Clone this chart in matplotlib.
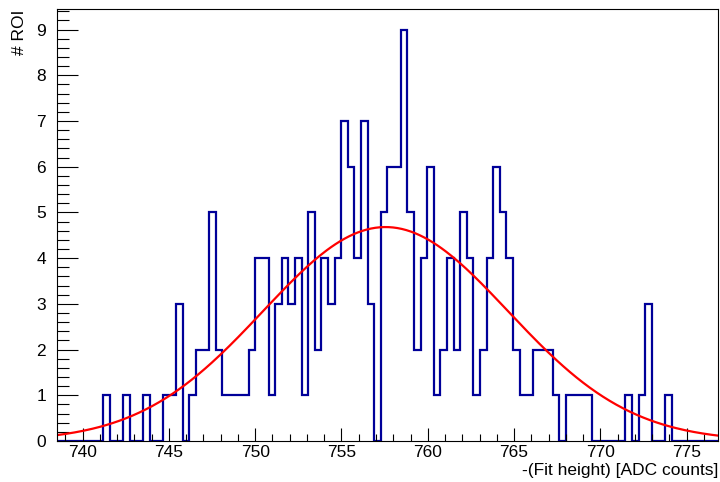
import numpy as np
import matplotlib
matplotlib.use("Agg")
import matplotlib.pyplot as plt
from matplotlib.ticker import MultipleLocator

plt.rcParams['font.family'] = ['Liberation Sans', 'DejaVu Sans']

# histogram: 100 bins over the fit-height range
x_lo, x_hi, n_bins = 738.52, 776.81, 100
counts = [0, 0, 0, 0, 0, 0, 0, 1, 0, 0,
          1, 0, 0, 1, 0, 0, 1, 1, 3, 0,
          1, 2, 2, 5, 2, 1, 1, 1, 1, 2,
          4, 4, 1, 3, 4, 3, 4, 1, 5, 2,
          4, 3, 4, 7, 6, 4, 7, 3, 0, 5,
          6, 6, 9, 5, 2, 4, 6, 1, 2, 4,
          2, 5, 4, 1, 2, 4, 6, 5, 4, 2,
          1, 1, 2, 2, 2, 1, 0, 1, 1, 1,
          1, 0, 0, 0, 0, 0, 1, 0, 1, 3,
          0, 0, 1, 0, 0, 0, 0, 0, 0, 0]

# gaussian fit parameters
g_const = 4.68
g_mean = 757.55
g_sigma = 7.1

x_title = "-(Fit height) [ADC counts]"
y_title = "# ROI"

edges = np.linspace(x_lo, x_hi, n_bins + 1)
xf = np.linspace(x_lo, x_hi, 300)
yf = g_const * np.exp(-0.5 * ((xf - g_mean) / g_sigma) ** 2)

fig = plt.figure(figsize=(7.2, 4.82), dpi=100)
ax = fig.add_axes([57 / 720, 41 / 482, 661 / 720, 432 / 482])

ax.stairs(counts, edges, color='#000099', linewidth=1.6, baseline=None)
ax.plot(xf, yf, color='red', linewidth=1.6)

ax.set_xlim(x_lo, x_hi)
ax.set_ylim(0, 9.45)

ax.xaxis.set_major_locator(MultipleLocator(5))
ax.xaxis.set_minor_locator(MultipleLocator(1))
ax.yaxis.set_major_locator(MultipleLocator(1))
ax.yaxis.set_minor_locator(MultipleLocator(0.2))

ax.tick_params(axis='both', which='both', direction='in', top=False, right=False,
               width=0.8, labelsize=12.5)
ax.tick_params(axis='x', which='major', length=9.5, pad=3)
ax.tick_params(axis='x', which='minor', length=4.8)
ax.tick_params(axis='y', which='major', length=15, pad=8)
ax.tick_params(axis='y', which='minor', length=8.6)
for s in ax.spines.values():
    s.set_linewidth(0.8)

fig.text(718 / 720, 1 - 470 / 482, x_title, ha='right', va='center', fontsize=12.5)
fig.text(20 / 720, 1 - 10 / 482, y_title, rotation=90, ha='center', va='top', fontsize=12.5)

fig.savefig("out.png", dpi=100)
